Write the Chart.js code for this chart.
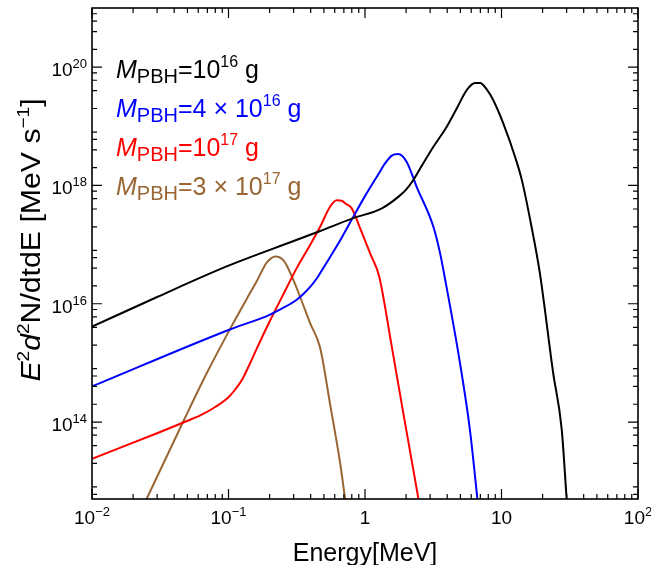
<!DOCTYPE html>
<html>
<head>
<meta charset="utf-8">
<script src="https://cdn.jsdelivr.net/npm/chart.js@4.4.1/dist/chart.umd.min.js"></script>
<style>
  html, body { margin: 0; padding: 0; background: #fff; }
  #wrap { width: 651px; height: 565px; }
</style>
</head>
<body>
<div id="wrap"><canvas id="spectrum" width="651" height="565"></canvas></div>
<script>
// photon spectra E^2 d^2N/dtdE for several PBH masses
const energy16 = [0.01, 0.03, 0.1, 0.3, 0.47, 0.82, 1.33, 1.78, 2.0, 2.24, 2.51, 3.17, 3.97, 4.70, 5.56, 6.40, 6.97, 7.80, 8.71, 10.3, 12.6, 14.1, 16.6, 19.1, 23.9, 27.6, 30.0, 30.9];
const flux16 = [4.1e15, 1.3e16, 4.4e16, 1.15e17, 1.7e17, 2.8e17, 4.1e17, 6.6e17, 8.5e17, 1.2e18, 1.86e18, 4.5e18, 9.8e18, 2.0e19, 4.1e19, 5.4e19, 5.4e19, 4.2e19, 2.75e19, 1.12e19, 3.0e18, 1.23e18, 2.0e17, 3.3e16, 6.8e14, 7.6e13, 5.1e12, 2.0e12];

const energy4e16 = [0.01, 0.1, 0.2, 0.251, 0.316, 0.355, 0.398, 0.447, 0.501, 0.631, 0.794, 1.0, 1.26, 1.41, 1.57, 1.75, 2.02, 2.39, 3.17, 3.55, 3.85, 4.97, 5.87, 6.65, 6.92];
const flux4e16 = [4.0e14, 3.6e15, 6.5e15, 8.5e15, 1.17e16, 1.48e16, 1.95e16, 2.75e16, 4.2e16, 1.0e17, 2.57e17, 6.6e17, 1.58e18, 2.4e18, 3.2e18, 3.4e18, 2.5e18, 9.5e17, 2.0e17, 7.1e16, 2.7e16, 9.8e14, 7.4e13, 5.1e12, 2.0e12];

const energy17 = [0.01, 0.0316, 0.0501, 0.0631, 0.0794, 0.1, 0.112, 0.126, 0.141, 0.158, 0.2, 0.251, 0.316, 0.398, 0.469, 0.556, 0.622, 0.676, 0.714, 0.80, 0.92, 1.09, 1.27, 1.57, 1.91, 2.26, 2.46, 2.55];
const flux17 = [2.4e13, 6.8e13, 1.05e14, 1.32e14, 1.78e14, 2.63e14, 3.55e14, 5.25e14, 8.9e14, 1.58e15, 5.0e15, 1.41e16, 4.0e16, 1.0e17, 2.0e17, 4.4e17, 5.6e17, 5.5e17, 5.0e17, 4.1e17, 1.9e17, 7.1e16, 2.9e16, 1.9e15, 1.4e14, 1.55e13, 5.1e12, 3.2e12];

const energy3e17 = [0.024, 0.0252, 0.0469, 0.0695, 0.103, 0.141, 0.161, 0.178, 0.191, 0.22, 0.253, 0.291, 0.335, 0.396, 0.469, 0.556, 0.658, 0.714, 0.733];
const flux3e17 = [4.0e12, 5.1e12, 1.05e14, 6.8e14, 3.8e15, 1.4e16, 2.4e16, 3.8e16, 5.0e16, 6.3e16, 5.4e16, 2.9e16, 1.3e16, 4.7e15, 1.8e15, 1.95e14, 2.0e13, 5.1e12, 3.2e12];

// legend: M_PBH = mantissa x 10^exp g
const massMantissa = ['', '4 × ', '', '3 × '];
const massExponent = ['16', '16', '17', '17'];
const lineColors = ['#000000', '#0000ff', '#ff0000', '#996633'];

// axis ticks
const xMajor = [0.01, 0.1, 1, 10, 100];
const xMajorBase = ['10', '10', '1', '10', '10'];
const xMajorExp = ['−2', '−1', '', '', '2'];
const yMajor = [1e14, 1e16, 1e18, 1e20];
const yMajorExp = ['14', '16', '18', '20'];
const xMinorMult = [2, 3, 4, 5, 6, 7, 8, 9];
const yMinorMult = [2, 4, 6, 8];

const FONT = "'Liberation Sans', Arial, sans-serif";

function pairs(xs, ys) {
    return xs.map((e, i) => ({ x: e, y: ys[i] }));
}

// draw a run of text pieces [text, font, dy] one after another
function drawRich(ctx, parts, x, y, align) {
    let w = 0;
    parts.forEach(p => { ctx.font = p[1]; w += ctx.measureText(p[0]).width; });
    let cx = align === 'center' ? x - w / 2 : (align === 'right' ? x - w : x);
    parts.forEach(p => {
        ctx.font = p[1];
        ctx.fillText(p[0], cx, y + p[2]);
        cx += ctx.measureText(p[0]).width;
    });
}

const framePlugin = {
    id: 'frame',
    afterDatasetsDraw(chart) {
        const ctx = chart.ctx;
        const a = chart.chartArea;
        const xs = chart.scales.x;
        const ys = chart.scales.y;
        ctx.save();
        ctx.strokeStyle = '#000';
        ctx.fillStyle = '#000';

        // ticks (inward, mirrored)
        ctx.lineWidth = 1.2;
        const xTick = (v, len) => {
            if (v < xs.min || v > xs.max) return;
            const px = xs.getPixelForValue(v);
            ctx.beginPath();
            ctx.moveTo(px, a.bottom); ctx.lineTo(px, a.bottom - len);
            ctx.moveTo(px, a.top); ctx.lineTo(px, a.top + len);
            ctx.stroke();
        };
        const yTick = (v, len) => {
            if (v < ys.min || v > ys.max) return;
            const py = ys.getPixelForValue(v);
            ctx.beginPath();
            ctx.moveTo(a.left, py); ctx.lineTo(a.left + len, py);
            ctx.moveTo(a.right, py); ctx.lineTo(a.right - len, py);
            ctx.stroke();
        };
        xMajor.forEach(v => xTick(v, 10));
        for (let d = -2; d < 2; d++) xMinorMult.forEach(m => xTick(m * Math.pow(10, d), 5));
        yMajor.forEach(v => yTick(v, 10));
        for (let d = 12; d <= 20; d++) yMinorMult.forEach(m => yTick(m * Math.pow(10, d), 5));

        // frame
        ctx.lineWidth = 1.6;
        ctx.strokeRect(a.left, a.top, a.right - a.left, a.bottom - a.top);

        // tick labels
        ctx.textAlign = 'left';
        ctx.textBaseline = 'alphabetic';
        const big = '19px ' + FONT, sup = '13px ' + FONT;
        xMajor.forEach((v, i) => {
            const px = xs.getPixelForValue(v);
            const parts = [[xMajorBase[i], big, 0]];
            if (xMajorExp[i]) parts.push([xMajorExp[i], sup, -8]);
            drawRich(ctx, parts, px, a.bottom + 25, 'center');
        });
        yMajor.forEach((v, i) => {
            const py = ys.getPixelForValue(v);
            drawRich(ctx, [['10', big, 0], [yMajorExp[i], sup, -8]], 87, py + 9, 'right');
        });

        // axis titles
        const title = '25px ' + FONT;
        drawRich(ctx, [['Energy[MeV]', title, 0]], (a.left + a.right) / 2, 561, 'center');
        const yt = '27px ' + FONT, ytIt = 'italic 27px ' + FONT, ytSup = '17px ' + FONT;
        ctx.save();
        ctx.translate(40, 240);
        ctx.rotate(-Math.PI / 2);
        ctx.scale(1.12, 1);
        drawRich(ctx, [
            ['E', ytIt, 0], ['2', ytSup, -11], ['d', ytIt, 0], ['2', ytSup, -11],
            ['N/dtdE [MeV s', yt, 0], ['−1', ytSup, -11], [']', yt, 0]
        ], 0, 0, 'center');
        ctx.restore();

        // mass labels
        const lg = '25px ' + FONT, lgIt = 'italic 25px ' + FONT, lgSub = '20px ' + FONT, lgSup = '16px ' + FONT;
        massExponent.forEach((ex, i) => {
            ctx.fillStyle = lineColors[i];
            drawRich(ctx, [
                ['M', lgIt, 0], ['PBH', lgSub, 5], ['=' + massMantissa[i] + '10', lg, 0],
                [ex, lgSup, -11.5], [' g', lg, 0]
            ], 116, 78.3 + i * 38.9, 'left');
        });
        ctx.restore();
    }
};

new Chart(document.getElementById('spectrum'), {
    type: 'line',
    data: {
        datasets: [
            { label: 'M=1e16 g', data: pairs(energy16, flux16), borderColor: lineColors[0] },
            { label: 'M=4e16 g', data: pairs(energy4e16, flux4e16), borderColor: lineColors[1] },
            { label: 'M=1e17 g', data: pairs(energy17, flux17), borderColor: lineColors[2] },
            { label: 'M=3e17 g', data: pairs(energy3e17, flux3e17), borderColor: lineColors[3] }
        ]
    },
    options: {
        responsive: false,
        animation: false,
        devicePixelRatio: 1,
        layout: { padding: { left: 92, top: 8, right: 13, bottom: 66 } },
        elements: {
            point: { radius: 0 },
            line: { borderWidth: 2, fill: false, cubicInterpolationMode: 'monotone' }
        },
        plugins: { legend: { display: false }, tooltip: { enabled: false } },
        scales: {
            x: { type: 'logarithmic', min: 0.01, max: 100, display: false },
            y: { type: 'logarithmic', min: 5e12, max: 1e21, display: false }
        }
    },
    plugins: [framePlugin]
});
</script>
</body>
</html>
